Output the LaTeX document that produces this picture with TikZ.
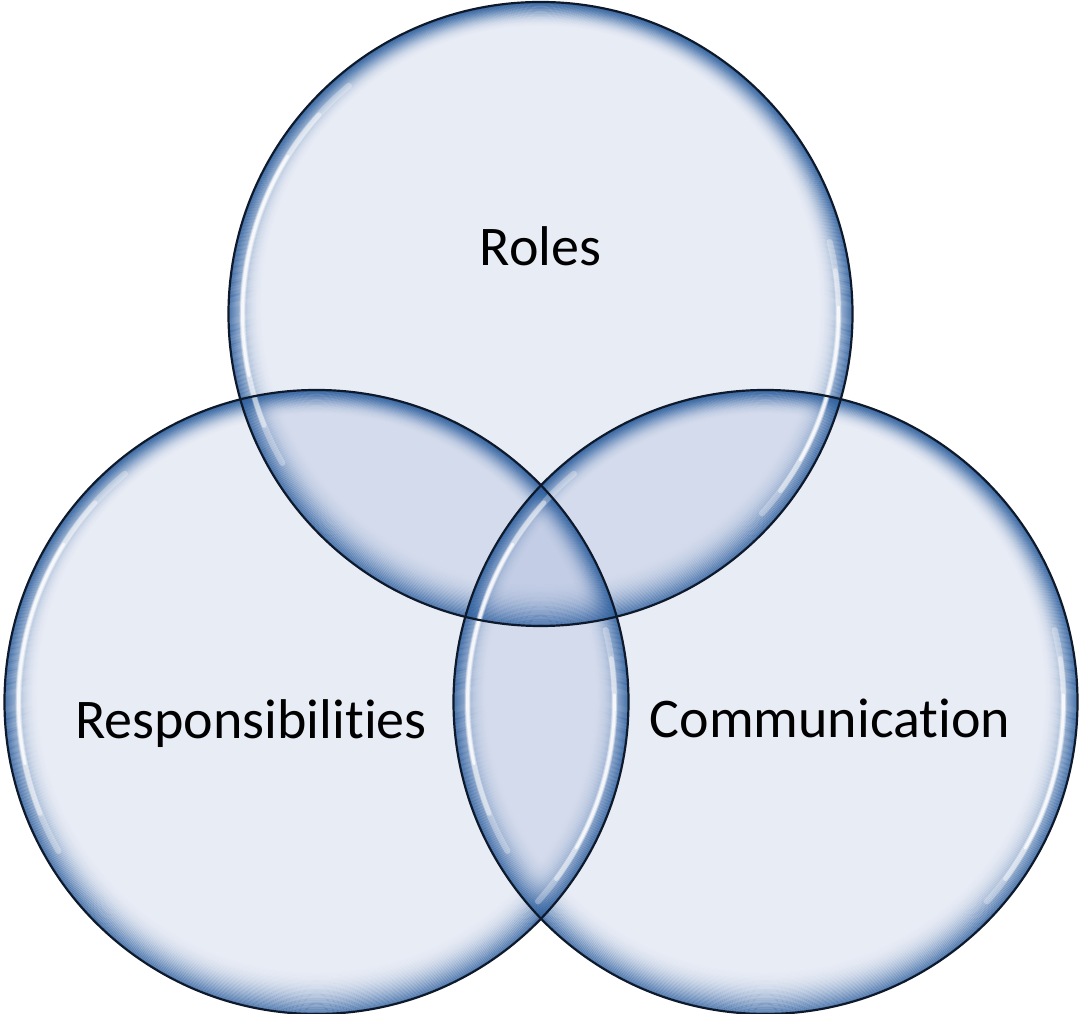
\documentclass[tikz,border=0pt]{standalone}
\usepackage{fontspec}
\setmainfont{Carlito}[Ligatures={NoCommon,NoContextual}]
\definecolor{basefill}{RGB}{91,119,184}
\definecolor{rimblue}{RGB}{45,95,158}
\definecolor{edgeline}{RGB}{14,26,44}
\tikzset{
  bubblefill/.style={fill=basefill, fill opacity=0.14},
  bubblering/.style={draw=rimblue, line width=1.6pt},
  bubbleedge/.style={draw=edgeline, line width=2.2pt},
  shine/.style={draw=white, line cap=round},
  lbl/.style={anchor=base, font=\fontsize{56}{67}\selectfont, text=black, inner sep=0pt}
}
\begin{document}
\begin{tikzpicture}[x=1pt,y=1pt]
\useasboundingbox (0,0) rectangle (1079,1014);
\coordinate (T) at (540.5,700);
\coordinate (L) at (316.5,312);
\coordinate (R) at (765.5,312);
% base fills
\foreach \c in {T,L,R} \fill[bubblefill] (\c) circle (312);
% rim glows
\foreach \c in {T,L,R}{
  \foreach \d in {0,...,34}{
    \pgfmathsetmacro{\op}{0.68*(1-\d/35)^2.4}
    \pgfmathsetmacro{\rr}{311-\d}
    \pgfmathsetmacro{\sh}{0.28*\d}
    \draw[bubblering, opacity=\op] ([yshift=\sh]\c) circle (\rr);
  }
}
% highlights
\foreach \c in {T,L,R}{
  \foreach \s/\o/\w in {40/0.3/6, 32/0.45/4.5, 22/0.75/2.8}{
    \draw[shine, line width=\w, opacity=\o] ([shift={(170-\s:298)}]\c) arc[start angle=170-\s, end angle=170+\s, radius=298];
    \draw[shine, line width=\w, opacity=\o] ([shift={(-14-0.7*\s:298)}]\c) arc[start angle=-14-0.7*\s, end angle=-14+0.7*\s, radius=298];
  }
}
% edges
\foreach \c in {T,L,R} \draw[bubbleedge] (\c) circle (312);
% labels
\node[lbl] (roles) at (540.5,748) {Roles};
\node[lbl] (resp) at (251,275) {Responsibilities};
\node[lbl] (comm) at (830,276) {Communication};
\end{tikzpicture}
\end{document}
